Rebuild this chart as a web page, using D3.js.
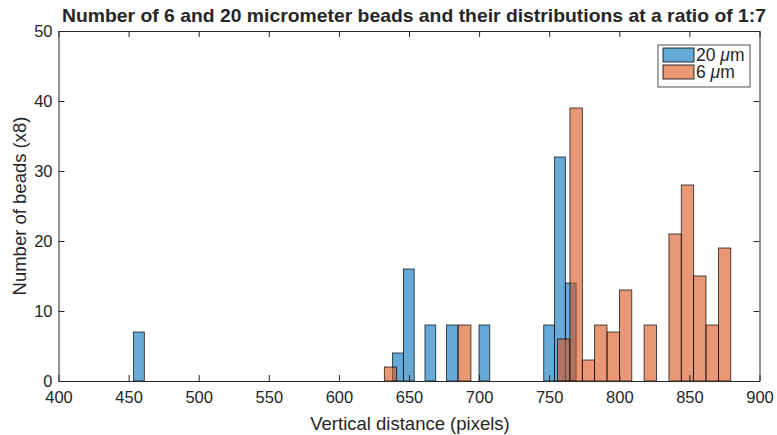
<!DOCTYPE html>
<html lang="en">
<head>
  <meta charset="UTF-8">
  <title>Bead distributions</title>
  <style>
    body { margin: 0; background: #fff; }
    text { font-family: "Liberation Sans", Arial, sans-serif; fill: #262626; }
  </style>
</head>
<body>
  <svg id="svg" width="777" height="435"></svg>
  <script src="https://d3js.org/d3.v7.min.js"></script>
  <script>
    // 20 um beads: left bin edges, counts, common bin width
    const edges20 = [453.5, 638.3, 646.0, 661.4, 676.8, 699.9, 746.1, 753.8, 761.5]
    const counts20 = [7, 4, 16, 8, 8, 8, 8, 32, 14]
    const width20 = 7.7

    // 6 um beads
    const edges6 = [632.4, 685.35, 755.95, 764.8, 773.6, 782.4, 791.25, 800.1, 817.7, 835.4, 844.2, 853.0, 861.85, 870.7]
    const counts6 = [2, 8, 6, 39, 3, 8, 7, 13, 8, 21, 28, 15, 8, 19]
    const width6 = 8.83

    const xTicks = [400, 450, 500, 550, 600, 650, 700, 750, 800, 850, 900]
    const yTicks = [0, 10, 20, 30, 40, 50]

    const series = [
      { name: '20 ', edges: edges20, counts: counts20, w: width20, color: 'rgb(0,114,189)' },
      { name: '6 ', edges: edges6, counts: counts6, w: width6, color: 'rgb(217,83,25)' }
    ]

    const mLeft = 58.5, mRight = 759.5, mTop = 31, mBottom = 381
    const svg = d3.select('#svg')

    const xScale = d3.scaleLinear().domain([400, 900]).range([mLeft, mRight])
    const yScale = d3.scaleLinear().domain([0, 50]).range([mBottom, mTop])

    // bars
    series.forEach(s => {
      svg.append('g')
        .selectAll('rect')
        .data(s.edges.map((e, i) => ({ x0: e, x1: e + s.w, c: s.counts[i] })))
        .enter()
        .append('rect')
        .attr('x', d => xScale(d.x0))
        .attr('width', d => xScale(d.x1) - xScale(d.x0))
        .attr('y', d => yScale(d.c))
        .attr('height', d => yScale(0) - yScale(d.c))
        .attr('fill', s.color)
        .attr('fill-opacity', 0.6)
        .attr('stroke', '#000')
        .attr('stroke-opacity', 0.85)
        .attr('stroke-width', 0.8)
    })

    // axes (inward ticks, box)
    const tk = 6
    const xAxis = d3.axisBottom(xScale).tickValues(xTicks).tickSizeInner(-tk).tickSizeOuter(0).tickPadding(12)
    const yAxis = d3.axisLeft(yScale).tickValues(yTicks).tickSizeInner(-tk).tickSizeOuter(0).tickPadding(12)
    const xTop = d3.axisTop(xScale).tickValues(xTicks).tickSizeInner(-tk).tickSizeOuter(0).tickFormat('')
    const yRight = d3.axisRight(yScale).tickValues(yTicks).tickSizeInner(-tk).tickSizeOuter(0).tickFormat('')

    const gx = svg.append('g').attr('transform', `translate(0,${mBottom})`).call(xAxis)
    const gy = svg.append('g').attr('transform', `translate(${mLeft},0)`).call(yAxis)
    svg.append('g').attr('transform', `translate(0,${mTop})`).call(xTop)
    svg.append('g').attr('transform', `translate(${mRight},0)`).call(yRight)

    svg.selectAll('.domain').attr('stroke', '#262626')
    svg.selectAll('.tick line').attr('stroke', '#262626')
    svg.selectAll('.tick text').style('font-size', '16.5px').style('font-family', '"Liberation Sans", Arial, sans-serif').attr('fill', '#262626')
    gx.selectAll('.tick text').attr('dy', '0.71em').attr('y', 10)
    gy.selectAll('.tick text').attr('x', -6)

    // title and axis labels
    svg.append('text')
      .attr('x', 414)
      .attr('y', 22)
      .attr('text-anchor', 'middle')
      .attr('textLength', 704)
      .attr('lengthAdjust', 'spacingAndGlyphs')
      .style('font-size', '19px')
      .style('font-weight', 'bold')
      .attr('fill', '#000')
      .text('Number of 6 and 20 micrometer beads and their distributions at a ratio of 1:7')

    svg.append('text')
      .attr('x', 410)
      .attr('y', 430)
      .attr('text-anchor', 'middle')
      .style('font-size', '18.5px')
      .text('Vertical distance (pixels)')

    svg.append('text')
      .attr('transform', `translate(26,${(mTop + mBottom) / 2}) rotate(-90)`)
      .attr('text-anchor', 'middle')
      .style('font-size', '18.5px')
      .text('Number of beads (x8)')

    // legend
    const lg = svg.append('g').attr('transform', 'translate(658,45)')
    lg.append('rect').attr('width', 92).attr('height', 42)
      .attr('fill', '#fff').attr('stroke', '#262626').attr('stroke-width', 0.8)
    series.forEach((s, i) => {
      lg.append('rect')
        .attr('x', 5).attr('y', 3 + i * 17)
        .attr('width', 31).attr('height', 14)
        .attr('fill', s.color).attr('fill-opacity', 0.6)
        .attr('stroke', '#000').attr('stroke-width', 0.8)
      const t = lg.append('text')
        .attr('x', 38).attr('y', 16 + i * 17)
        .style('font-size', '17.5px')
        .attr('fill', '#000')
      t.append('tspan').text(s.name)
      t.append('tspan').style('font-style', 'italic').text('\u03bc')
      t.append('tspan').text('m')
    })
  </script>
</body>
</html>
